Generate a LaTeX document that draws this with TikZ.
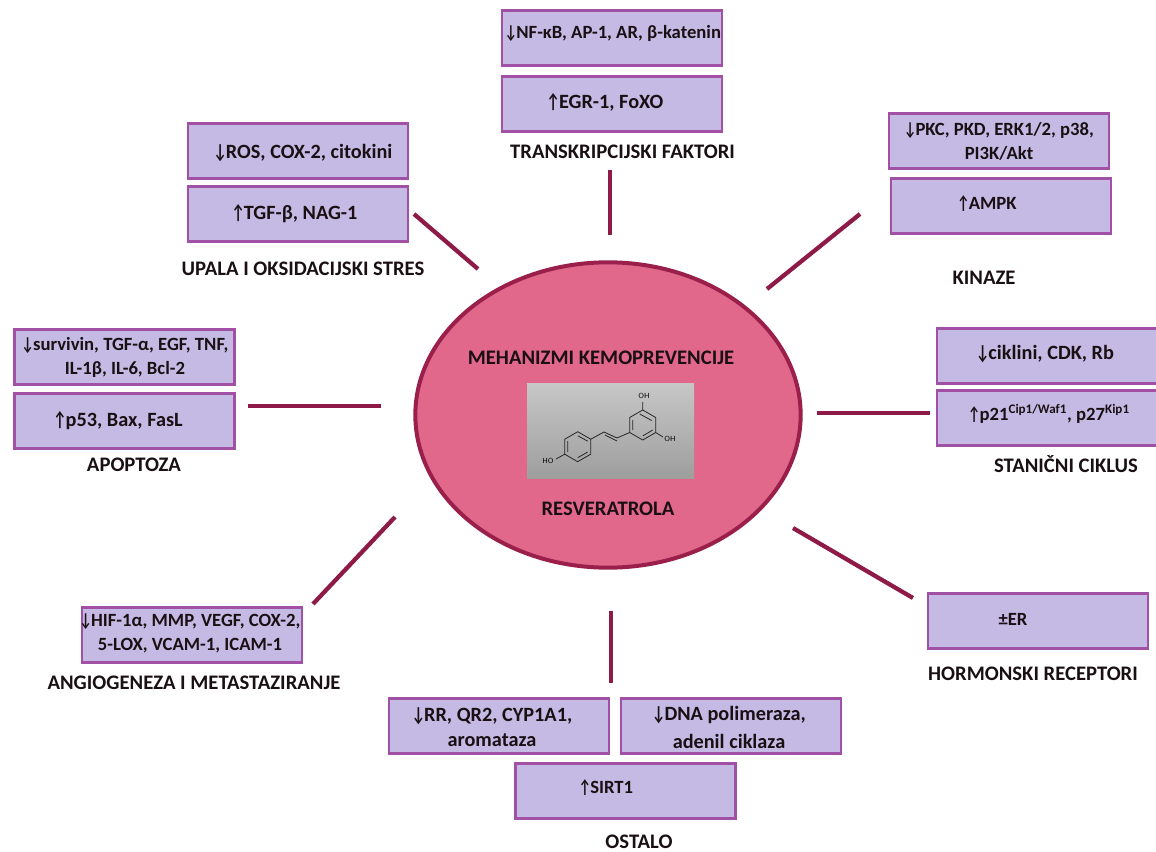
\documentclass[tikz,border=0pt]{standalone}
\usepackage{fontspec}
\usetikzlibrary{shapes.geometric}
\setmainfont[BoldFont={Carlito Bold}]{Carlito}

\definecolor{boxfill}{HTML}{C5BAE4}
\definecolor{boxline}{HTML}{A250A6}
\definecolor{ringfill}{HTML}{E1688B}
\definecolor{ringline}{HTML}{9A1F4B}
\definecolor{spoke}{HTML}{8E1B47}
\definecolor{inkdark}{HTML}{1A1014}

\newcommand{\arrdn}{\scalebox{.72}[1]{↓}\kern-.04em}
\newcommand{\arrup}{\scalebox{.72}[1]{↑}\kern-.04em}

\tikzset{
  effectbox/.style={draw=boxline, fill=boxfill, line width=2pt, minimum width=165pt, minimum height=41pt, inner sep=0pt},
  effecttext/.style={inner sep=0pt, align=center, text=inkdark, font=\fontsize{14}{18}\selectfont\bfseries},
  effectlarge/.style={effecttext, font=\fontsize{15.2}{19}\selectfont\bfseries},
  grouplabel/.style={inner sep=0pt, text=inkdark, font=\fontsize{15.5}{18}\selectfont\bfseries},
  spokeline/.style={spoke, line width=3.2pt},
  atomlabel/.style={inner sep=0pt, font=\sffamily\fontsize{5.5}{6}\selectfont}
}

\begin{document}
\begin{tikzpicture}[x=0.75pt, y=-0.75pt]

\useasboundingbox (0, 0) rectangle (1156, 852);

% centre
\node[ellipse, draw=ringline, fill=ringfill, line width=3pt, minimum width=289pt, minimum height=229pt, inner sep=0pt] (centre) at (608, 415) {};
\node[grouplabel] (title) at (601, 358) {MEHANIZMI KEMOPREVENCIJE};
\node[grouplabel] (resv) at (608, 509) {RESVERATROLA};

% molecule
\shade[top color=black!22, bottom color=black!38] (527, 383) rectangle (694, 478);
\draw[line width=0.6pt, black!85]
  (642.7, 410) -- (655.7, 417.5) -- (655.7, 432.5) -- (642.7, 440) -- (629.7, 432.5) -- (629.7, 417.5) -- cycle
  (642.7, 410) -- (642.7, 402)
  (655.7, 432.5) -- (663, 437)
  (629.7, 432.5) -- (617, 438) -- (604, 432) -- (590.7, 439.2)
  (590.7, 439.2) -- (577.7, 431.7) -- (564.7, 439.2) -- (564.7, 454.2) -- (577.7, 461.7) -- (590.7, 454.2) -- cycle
  (564.7, 454.2) -- (556, 459)
  (639.7, 414) -- (651.7, 420.5) (652.7, 430) -- (642.7, 436) (632.7, 430) -- (632.7, 420)
  (577.7, 435.7) -- (587.7, 441.2) (587.7, 452) -- (577.7, 457.7) (567.7, 452) -- (567.7, 441)
  (617, 441) -- (605, 435);
\node[atomlabel] (oh1) at (644, 396) {OH};
\node[atomlabel] (oh2) at (670, 439) {OH};
\node[atomlabel] (oh3) at (548, 461) {HO};

% transkripcijski faktori
\node[effectbox] (tf1) at (612, 38) {};
\node[effecttext] (tf1text) at (613, 33) {\arrdn NF-κB, AP-1, AR, β-katenin};
\node[effectbox] (tf2) at (612, 104) {};
\node[effectlarge] (tf2text) at (605, 102) {\arrup EGR-1, FoXO};
\node[grouplabel] (tflabel) at (622.5, 152) {TRANSKRIPCIJSKI FAKTORI};

% upala
\node[effectbox] (up1) at (298, 151) {};
\node[effectlarge] (up1text) at (303, 153) {\arrdn ROS, COX-2, citokini};
\node[effectbox] (up2) at (298, 214) {};
\node[effectlarge] (up2text) at (294.5, 214) {\arrup TGF-β, NAG-1};
\node[grouplabel] (uplabel) at (303, 269) {UPALA I OKSIDACIJSKI STRES};

% kinaze
\node[effectbox] (ki1) at (999, 141) {};
\node[effecttext] (ki1text) at (999, 141) {\arrdn PKC, PKD, ERK1/2, p38,\\PI3K/Akt};
\node[effectbox] (ki2) at (1001, 206) {};
\node[effecttext] (ki2text) at (987, 204) {\arrup AMPK};
\node[grouplabel] (kilabel) at (984, 278) {KINAZE};

% apoptoza
\node[effectbox] (ap1) at (124.5, 357) {};
\node[effecttext] (ap1text) at (125, 357.5) {\arrdn survivin, TGF-α, EGF, TNF,\\IL-1β, IL-6, Bcl-2};
\node[effectbox] (ap2) at (124.5, 421) {};
\node[effectlarge] (ap2text) at (118, 421) {\arrup p53, Bax, FasL};
\node[grouplabel] (aplabel) at (134, 465) {APOPTOZA};

% stanicni ciklus
\node[effectbox] (ci1) at (1047, 356) {};
\node[effectlarge] (ci1text) at (1045, 354) {\arrdn ciklini, CDK, Rb};
\node[effectbox] (ci2) at (1047, 418) {};
\node[effecttext] (ci2text) at (1049, 414) {\arrup p21\textsuperscript{Cip1/Waf1}, p27\textsuperscript{Kip1}};
\node[grouplabel] (cilabel) at (1066, 464) {STANIČNI CIKLUS};

% angiogeneza
\node[effectbox] (an1) at (192, 635) {};
\node[effecttext] (an1text) at (190, 633) {\arrdn HIF-1α, MMP, VEGF, COX-2,\\5-LOX, VCAM-1, ICAM-1};
\node[grouplabel] (anlabel) at (194, 683) {ANGIOGENEZA I METASTAZIRANJE};

% hormonski receptori
\node[effectbox] (er1) at (1038, 621) {};
\node[effecttext] (er1text) at (1013, 619) {±ER};
\node[grouplabel] (erlabel) at (1033, 674) {HORMONSKI RECEPTORI};

% ostalo
\node[effectbox] (os1) at (499, 726) {};
\node[effectlarge] (os1text) at (492, 727) {\arrdn RR, QR2, CYP1A1,\\aromataza};
\node[effectbox] (os2) at (731, 726) {};
\node[effectlarge] (os2text) at (729, 727.5) {\arrdn DNA polimeraza,\\[2pt]adenil ciklaza};
\node[effectbox] (os3) at (625.5, 791) {};
\node[effecttext] (os3text) at (606, 788) {\arrup SIRT1};
\node[grouplabel] (oslabel) at (639, 842) {OSTALO};

% spokes
\foreach \name/\ax/\ay/\bx/\by in {tf/610/170/610/235, up/414/214/478/269, ki/860/214/767/289, ap/248/406/381/406, ci/817/413/930/413, an/395/517/313/604, er/793/528/913/598, os/611/611/611/683}
{
\coordinate (\name a) at (\ax, \ay);
\coordinate (\name b) at (\bx, \by);
\draw[spokeline] (\name a) -- (\name b);
}

\end{tikzpicture}
\end{document}
